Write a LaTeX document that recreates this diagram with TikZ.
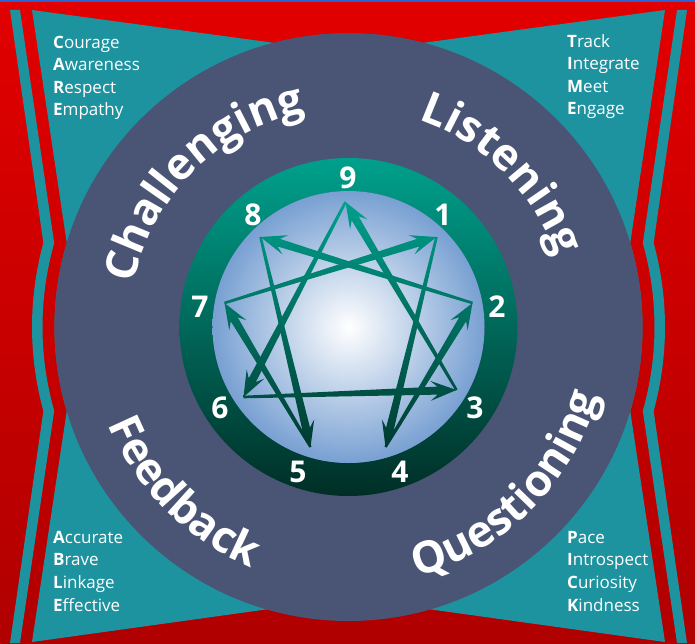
\documentclass[tikz,border=0pt]{standalone}
\usepackage{fontspec}
\setmainfont{Open Sans}
\usepackage{xcolor}
\usetikzlibrary{calc, decorations.text}
\definecolor{frame-red}{HTML}{E20000}
\definecolor{frame-darkred}{HTML}{B00000}
\definecolor{frame-blue}{HTML}{2A64D2}
\definecolor{band-teal}{HTML}{1E93A0}
\definecolor{ring-purple}{HTML}{4A5474}
\definecolor{ennea-light}{HTML}{00A08C}
\definecolor{ennea-dark}{HTML}{003A30}
\definecolor{core-blue}{HTML}{78A0D2}

% tapered arrow: from, to, top colour, bottom colour
\newcommand{\ennarrow}[4]{%
  \shade[top color=#3, bottom color=#4]
    ($(#1)!1.3pt!90:(#2)$) -- ($(#2)!19pt!(#1)!4pt!-90:(#1)$)
    -- ($(#2)!26pt!(#1)!10pt!-90:(#1)$) -- (#2)
    -- ($(#2)!26pt!(#1)!10pt!90:(#1)$) -- ($(#2)!19pt!(#1)!4pt!90:(#1)$)
    -- ($(#1)!1.3pt!-90:(#2)$) -- cycle;}

\begin{document}
\begin{tikzpicture}[x=1pt, y=1pt,
    every node/.style={text=white},
    card/.style={align=left, anchor=base west, inner sep=0pt, font=\fontsize{17}{22.6}\selectfont},
    num/.style={font=\fontsize{30}{30}\selectfont\bfseries},
    arc label/.style={decorate, decoration={text along path, text align=center, text color=white,
      text={|\fontsize{44}{44}\selectfont\bfseries|#1}}}]
  \useasboundingbox (-348.5,-316) rectangle (346.5,327);
  % frame
  \shade[top color=frame-red, bottom color=frame-darkred] (-348.5,-316) rectangle (346.5,327);
  \fill[frame-blue] (-348.5,325) rectangle (346.5,327);
  \fill[band-teal] (-338.5,317) -- (164.6:316.5) arc[start angle=164.6, end angle=195.4, radius=316.5]
    -- (-338.5,-316) -- (-328.5,-316) -- (195.9:306) arc[start angle=195.9, end angle=164.1, radius=306]
    -- (-328.5,317) -- cycle;
  \fill[band-teal] (338.5,317) -- (15.4:316.5) arc[start angle=15.4, end angle=-15.4, radius=316.5]
    -- (338.5,-316) -- (328.5,-316) -- (-15.9:306) arc[start angle=-15.9, end angle=15.9, radius=306]
    -- (328.5,317) -- cycle;
  \fill[band-teal] (-316.5,317) -- (0,274) -- (316.5,317) -- (16.6:294) arc[start angle=16.6, end angle=-16.6, radius=294]
    -- (316.5,-315) -- (0,-271) -- (-316.5,-315) -- (196.6:294) arc[start angle=196.6, end angle=163.4, radius=294]
    -- cycle;
  % rings
  \fill[ring-purple] (0,0) circle[radius=294];
  \shade[top color=ennea-light, bottom color=ennea-dark!80!black, even odd rule]
    (0,0) circle[radius=169] (0,0) circle[radius=136];
  \shade[inner color=white, outer color=core-blue] (0,0) circle[radius=136];

  % enneagram points
  \coordinate (p9) at (-3,125);
  \coordinate (p1) at (88,90);
  \coordinate (p2) at (124,24);
  \coordinate (p3) at (108,-63);
  \coordinate (p4) at (37,-120);
  \coordinate (p5) at (-38,-120);
  \coordinate (p6) at (-105,-70);
  \coordinate (p7) at (-124,24);
  \coordinate (p8) at (-88,90);

  \ennarrow{p9}{p6}{ennea-light}{ennea-light!20!ennea-dark}
  \ennarrow{p6}{p3}{ennea-light!24!ennea-dark}{ennea-light!20!ennea-dark}
  \ennarrow{p3}{p9}{ennea-light}{ennea-light!22!ennea-dark}
  \ennarrow{p7}{p1}{ennea-light!86!ennea-dark}{ennea-light!59!ennea-dark}
  \ennarrow{p2}{p8}{ennea-light!86!ennea-dark}{ennea-light!59!ennea-dark}
  \ennarrow{p1}{p4}{ennea-light!86!ennea-dark}{ennea-dark}
  \ennarrow{p8}{p5}{ennea-light!86!ennea-dark}{ennea-dark}
  \ennarrow{p4}{p2}{ennea-light!59!ennea-dark}{ennea-dark}
  \ennarrow{p5}{p7}{ennea-light!59!ennea-dark}{ennea-dark}

  \node[num] (n9) at (-0.5,149) {9};
  \node[num] (n1) at (94.5,112) {1};
  \node[num] (n2) at (148.5,20) {2};
  \node[num] (n3) at (126.5,-81) {3};
  \node[num] (n4) at (51.5,-145) {4};
  \node[num] (n5) at (-50.5,-145) {5};
  \node[num] (n6) at (-128.5,-81) {6};
  \node[num] (n7) at (-148.5,20) {7};
  \node[num] (n8) at (-95.5,112) {8};

  % curved headings
  \path[arc label=Challenging] (180:219) arc[start angle=180, end angle=90, radius=219];
  \path[arc label=Listening] (90:219) arc[start angle=90, end angle=0, radius=219];
  \path[arc label=Feedback] (180:259) arc[start angle=180, end angle=270, radius=259];
  \path[arc label=Questioning] (270:259) arc[start angle=270, end angle=360, radius=259];

  % corner lists
  \node[card] (care) at (-295.5,211) {\textbf{C}ourage\\\textbf{A}wareness\\\textbf{R}espect\\\textbf{E}mpathy};
  \node[card] (time) at (218.5,212) {\textbf{T}rack\\\textbf{I}ntegrate\\\textbf{M}eet\\\textbf{E}ngage};
  \node[card] (able) at (-295.5,-284) {\textbf{A}ccurate\\\textbf{B}rave\\\textbf{L}inkage\\\textbf{E}ffective};
  \node[card] (pick) at (218.5,-284) {\textbf{P}ace\\\textbf{I}ntrospect\\\textbf{C}uriosity\\\textbf{K}indness};
\end{tikzpicture}
\end{document}
